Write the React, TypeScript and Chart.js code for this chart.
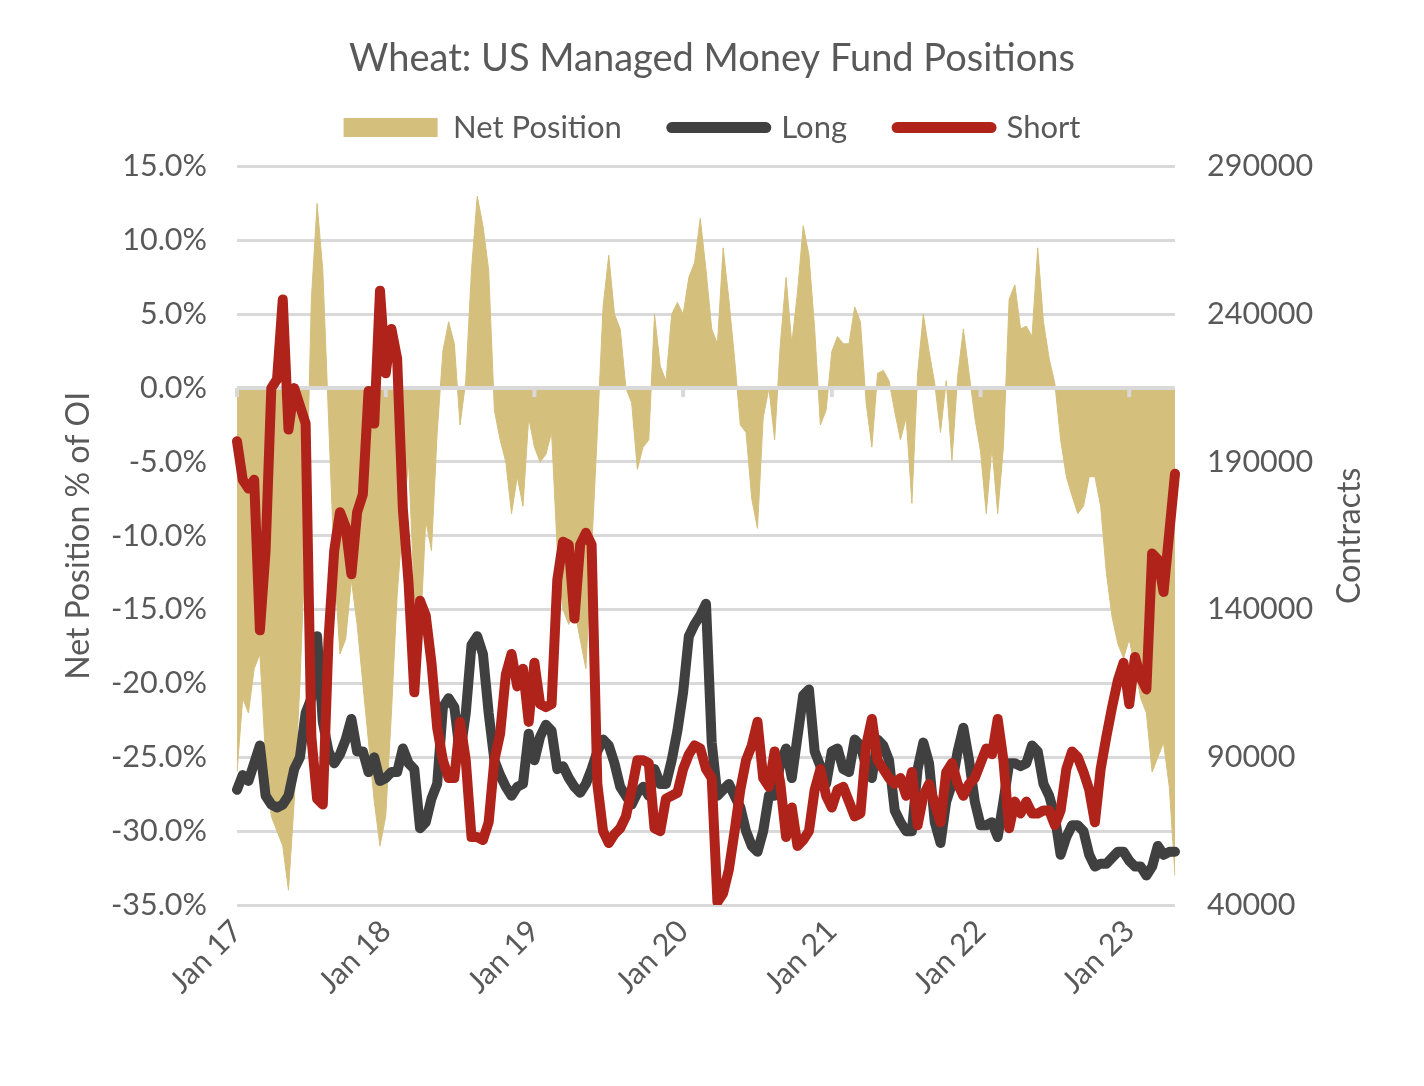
import React, { useEffect, useRef } from "react";
import { Chart, registerables } from "chart.js";

Chart.register(...registerables);

const TITLE = "Wheat: US Managed Money Fund Positions";
const LEFT_AXIS_TITLE = "Net Position % of OI";
const RIGHT_AXIS_TITLE = "Contracts";
const SERIES_NAMES = ["Net Position", "Long", "Short"];
const yearTickLabels = ["Jan 17", "Jan 18", "Jan 19", "Jan 20", "Jan 21", "Jan 22", "Jan 23"];
const PERIODS_PER_YEAR = 26; // bi-weekly observations

// Net position, % of open interest (left axis)
const netPositionPct = [
  -26, -21, -22, -19, -18, -25, -29, -30, -31, -34, -28, -20, -10, 6, 12.5, 8, -2,
  -12, -18, -17, -13, -16, -20, -24, -28, -31, -29,
  -22, -14, -9, -5, -14, -17, -9, -11, -3,
  2.5, 4.5, 3, -2.5, 0.5, 8, 13, 11, 8, -1.5, -3.5, -5, -8.5, -6, -8, -2, -4, -5,
  -4.5, -3, -11, -15, -16, -15, -17, -19, -11, -3, 5.5, 9, 5, 4, 0, -1, -5.5, -4, -3.5, 5,
  1.5, 0.5, 5, 5.8, 5, 7.5, 8.5, 11.5, 8,
  4, 3, 9.5, 6, 2, -2.5, -3, -7.5, -9.5, -2, 0, -3.5, 3, 7.5, 3, 6.5, 11, 9, 4, -2.5,
  -1.5, 2.5, 3.5, 3, 3, 5.5, 4.5,
  -1, -4, 1, 1.2, 0.5, -1.6, -3.5, -2, -7.8, 1, 5, 2.5, 0.3, -3, 0.5, -4.9, 0.8, 4, 1, -2,
  -4.3, -8.5, -4, -8.5, -4, 6, 7,
  4, 4.2, 3.5, 9.5, 4.5, 2, 0.3, -3.5, -6, -7.3, -8.5, -8, -6, -6, -8, -12.5, -15.5, -17.3, -18.3, -17,
  -19, -21, -22, -26, -25, -24, -27, -33,
];

// Long contracts, thousands (right axis)
const longThousands = [
  79, 84, 82, 88, 94, 77, 74, 73, 74, 77, 86, 90, 105, 110, 131, 102, 92,
  88, 91, 96, 103, 92, 92, 85, 90, 82, 83,
  85, 85, 93, 88, 86, 66, 68, 76, 81,
  107, 110, 107, 91, 105, 128, 131, 125, 105, 89, 84, 80, 77, 80, 81, 98, 89, 97,
  101, 99, 86, 87, 83, 80, 78, 81, 86, 92, 96, 94, 88, 80, 77, 74, 78, 80, 77, 86,
  81, 81, 89, 99, 112, 131, 135, 138, 142,
  95, 77, 79, 81, 77, 73, 65, 60, 58, 65, 77, 77, 88, 93, 83, 97, 111, 113, 92, 87,
  81, 92, 93, 86, 85, 96, 94,
  87, 83, 96, 94, 89, 72, 68, 65, 65, 86, 95, 88, 68, 61, 75, 81, 92, 100, 89, 75,
  67, 67, 68, 63, 75, 88, 88,
  87, 88, 94, 92, 81, 77, 70, 57, 63, 67, 67, 65, 57, 53, 54, 54, 56, 58, 58, 55,
  53, 53, 50, 53, 60, 57, 58, 58,
];

// Short contracts, thousands (right axis)
const shortThousands = [
  197, 184, 181, 184, 133, 160, 215, 218, 245, 201, 215, 209, 203, 97, 76, 74, 130,
  160, 173, 168, 152, 173, 179, 214, 203, 248, 220,
  235, 225, 174, 149, 112, 143, 138, 122, 100,
  89, 83, 83, 102, 89, 63, 63, 62, 68, 89, 98, 118, 125, 114, 120, 102, 122, 108,
  107, 108, 150, 163, 162, 137, 162, 166, 162, 81, 65, 61, 64, 66, 70, 79, 89, 89, 88, 66,
  65, 76, 77, 78, 86, 91, 94, 93, 86,
  83, 41, 44, 52, 65, 79, 89, 94, 102, 83, 80, 92, 81, 63, 73, 60, 62, 65, 79, 86,
  77, 73, 79, 80, 75, 70, 71,
  94, 103, 89, 86, 83, 81, 83, 77, 85, 67, 77, 81, 74, 68, 85, 88, 81, 77, 81, 83,
  88, 93, 91, 103, 89, 66, 75,
  71, 75, 71, 71, 72, 72, 67, 72, 86, 92, 90, 85, 79, 68, 86, 97, 107, 116, 122, 108,
  124, 117, 113, 159, 157, 146, 166, 186,
];

const COLORS = {
  net: "#D5BF7D",
  long: "#404040",
  short: "#B0231A",
  text: "#595959",
  grid: "#D9D9D9",
};
const FONT_FAMILY = "Lato, 'Open Sans', sans-serif";

const zeroAxisPlugin = {
  id: "zeroAxis",
  afterDatasetDraw(chart: any, args: any) {
    if (args.index !== 0) return;
    const { ctx, chartArea, scales } = chart;
    const y0 = scales.y.getPixelForValue(0);
    ctx.save();
    ctx.strokeStyle = COLORS.grid;
    ctx.lineWidth = 4;
    ctx.beginPath();
    ctx.moveTo(chartArea.left, y0);
    ctx.lineTo(chartArea.right, y0);
    ctx.stroke();
    for (let k = 0; k < yearTickLabels.length; k++) {
      const px = scales.x.getPixelForValue(k * PERIODS_PER_YEAR);
      ctx.beginPath();
      ctx.moveTo(px, y0);
      ctx.lineTo(px, y0 + 9);
      ctx.stroke();
    }
    ctx.restore();
  },
};

const rightTitlePlugin = {
  id: "rightTitle",
  afterDraw(chart: any) {
    const { ctx, chartArea, scales } = chart;
    ctx.save();
    ctx.translate(scales.y1.left + 175, (chartArea.top + chartArea.bottom) / 2);
    ctx.rotate(-Math.PI / 2);
    ctx.font = `32px ${FONT_FAMILY}`;
    ctx.fillStyle = COLORS.text;
    ctx.textAlign = "center";
    ctx.textBaseline = "middle";
    ctx.fillText(RIGHT_AXIS_TITLE, 0, 0);
    ctx.restore();
  },
};

export default function App() {
  const ref = useRef<HTMLCanvasElement>(null);

  useEffect(() => {
    const canvas = ref.current;
    if (!canvas) return;
    const categories = netPositionPct.map((_, i) => i);
    const tickFont = { family: FONT_FAMILY, size: 30.5 };

    const chart = new Chart(canvas, {
      type: "line",
      data: {
        labels: categories,
        datasets: [
          {
            label: SERIES_NAMES[0],
            data: netPositionPct,
            yAxisID: "y",
            fill: "origin",
            backgroundColor: COLORS.net,
            borderColor: COLORS.net,
            borderWidth: 1,
            pointRadius: 0,
            tension: 0,
            order: 3,
          },
          {
            label: SERIES_NAMES[1],
            data: longThousands.map((v) => v * 1000),
            yAxisID: "y1",
            fill: false,
            borderColor: COLORS.long,
            backgroundColor: COLORS.long,
            borderWidth: 10,
            pointRadius: 0,
            tension: 0,
            borderJoinStyle: "round",
            borderCapStyle: "round",
            order: 2,
          },
          {
            label: SERIES_NAMES[2],
            data: shortThousands.map((v) => v * 1000),
            yAxisID: "y1",
            fill: false,
            borderColor: COLORS.short,
            backgroundColor: COLORS.short,
            borderWidth: 10,
            pointRadius: 0,
            tension: 0,
            borderJoinStyle: "round",
            borderCapStyle: "round",
            order: 1,
          },
        ],
      } as any,
      options: {
        responsive: false,
        animation: false,
        devicePixelRatio: 1,
        layout: { padding: 0 },
        plugins: {
          title: {
            display: true,
            text: TITLE,
            color: COLORS.text,
            font: { family: FONT_FAMILY, size: 38, weight: "normal", lineHeight: 1.2 },
            padding: { top: 36, bottom: -19.5 },
          },
          subtitle: {
            display: true,
            text: " ",
            font: { size: 1, lineHeight: 1 },
            padding: { top: 12.5, bottom: 0 },
            weight: 500,
          } as any,
          legend: {
            display: true,
            position: "top",
            labels: {
              usePointStyle: true,
              pointStyleWidth: 94,
              boxHeight: 19,
              padding: 50,
              color: COLORS.text,
              font: { family: FONT_FAMILY, size: 31 },
              generateLabels: () => [
                {
                  text: SERIES_NAMES[0],
                  fillStyle: COLORS.net,
                  strokeStyle: COLORS.net,
                  lineWidth: 0,
                  pointStyle: "rect",
                  hidden: false,
                  datasetIndex: 0,
                  fontColor: COLORS.text,
                },
                {
                  text: SERIES_NAMES[1],
                  fillStyle: COLORS.long,
                  strokeStyle: COLORS.long,
                  lineWidth: 11,
                  lineCap: "round",
                  pointStyle: "line",
                  hidden: false,
                  datasetIndex: 1,
                  fontColor: COLORS.text,
                },
                {
                  text: SERIES_NAMES[2],
                  fillStyle: COLORS.short,
                  strokeStyle: COLORS.short,
                  lineWidth: 11,
                  lineCap: "round",
                  pointStyle: "line",
                  hidden: false,
                  datasetIndex: 2,
                  fontColor: COLORS.text,
                },
              ],
            },
          } as any,
          tooltip: { enabled: false },
        },
        scales: {
          x: {
            type: "category",
            grid: { display: false, drawTicks: false },
            border: { display: false },
            ticks: {
              autoSkip: false,
              minRotation: 45,
              maxRotation: 45,
              padding: 8,
              color: COLORS.text,
              font: tickFont,
              callback: (_v: any, i: number) =>
                i % PERIODS_PER_YEAR === 0 ? yearTickLabels[i / PERIODS_PER_YEAR] ?? "" : "",
            },
            afterFit: (s: any) => {
              s.height = 181;
            },
          },
          y: {
            position: "left",
            min: -35,
            max: 15,
            ticks: {
              stepSize: 5,
              padding: 30,
              color: COLORS.text,
              font: tickFont,
              callback: (v: any) => Number(v).toFixed(1) + "%",
            },
            grid: { color: COLORS.grid, lineWidth: 3, drawTicks: false },
            border: { display: false },
            title: {
              display: true,
              text: LEFT_AXIS_TITLE,
              color: COLORS.text,
              font: { family: FONT_FAMILY, size: 32 },
              padding: { top: 59, bottom: 0 },
            },
            afterFit: (s: any) => {
              s.width = 237;
            },
          },
          y1: {
            position: "right",
            min: 40000,
            max: 290000,
            ticks: {
              stepSize: 50000,
              padding: 32,
              color: COLORS.text,
              font: tickFont,
              callback: (v: any) => String(v),
            },
            grid: { display: false, drawOnChartArea: false, drawTicks: false },
            border: { display: false },
            afterFit: (s: any) => {
              s.width = 249;
            },
          },
        },
      } as any,
      plugins: [zeroAxisPlugin, rightTitlePlugin],
    });

    return () => chart.destroy();
  }, []);

  return (
    <div style={{ position: "absolute", left: 0, top: 0, width: 1424, height: 1086, background: "#fff" }}>
      <canvas ref={ref} width={1424} height={1086} style={{ display: "block" }} />
    </div>
  );
}
